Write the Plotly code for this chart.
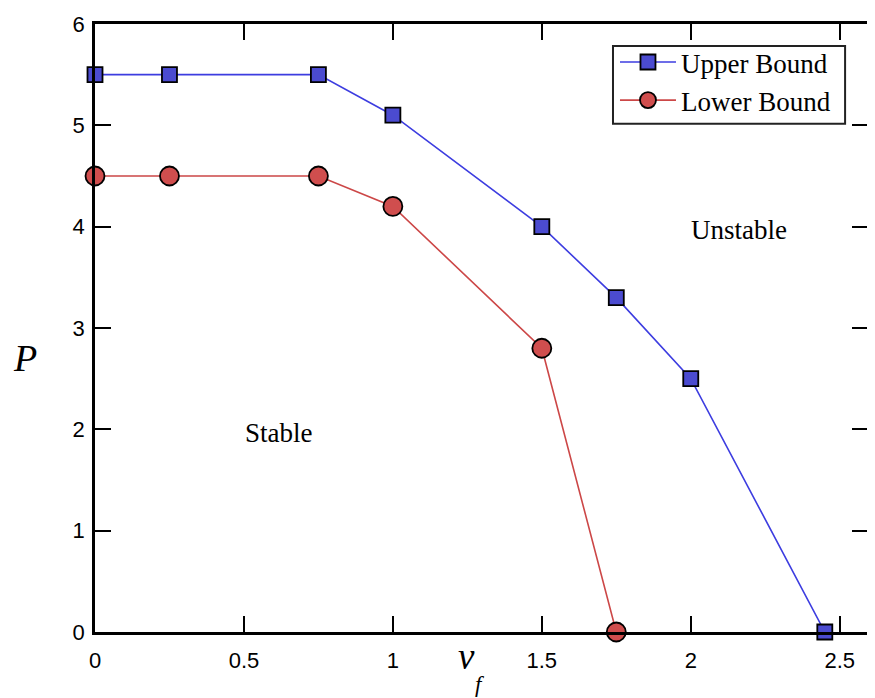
import plotly.graph_objects as go

upper_x = [0, 0.25, 0.75, 1.0, 1.5, 1.75, 2.0, 2.45]
upper_y = [5.5, 5.5, 5.5, 5.1, 4.0, 3.3, 2.5, 0.0]
lower_x = [0, 0.25, 0.75, 1.0, 1.5, 1.75]
lower_y = [4.5, 4.5, 4.5, 4.2, 2.8, 0.0]

x_ticks = [0, 0.5, 1, 1.5, 2, 2.5]
x_ticktext = ["0", "0.5", "1", "1.5", "2", "2.5"]
y_ticks = [0, 1, 2, 3, 4, 5, 6]

# page body has an 8px default margin; size the figure so it fits the window
OFF = 8
W, H = 875 - OFF, 698 - OFF
L, T = 95 - OFF, 22 - OFF
R = W - (871 - OFF)
B = H - (632 - OFF)
pw, ph = W - L - R, H - T - B

def px(x):
    return (x - OFF - L) / pw

def py(y):
    return (H - B - (y - OFF)) / ph

fig = go.Figure()
fig.add_trace(go.Scatter(
    x=upper_x, y=upper_y, mode="lines+markers", name="Upper Bound",
    line=dict(color="#3d3de0", width=1.6),
    marker=dict(symbol="square", size=15, color="#4b4bd0",
                line=dict(color="black", width=1.8)),
    cliponaxis=False))
fig.add_trace(go.Scatter(
    x=lower_x, y=lower_y, mode="lines+markers", name="Lower Bound",
    line=dict(color="#cc4747", width=1.6),
    marker=dict(symbol="circle", size=19, color="#d04e4e",
                line=dict(color="black", width=1.8)),
    cliponaxis=False))

serif = "Liberation Serif, Times New Roman, serif"
sans = "Liberation Sans, Arial, sans-serif"

def ann(text, x, y, size):
    return dict(text=text, x=px(x), y=py(y), xref="paper", yref="paper",
                xanchor="center", yanchor="middle", showarrow=False,
                font=dict(family=serif, size=size, color="black"))

fig.update_layout(
    width=W, height=H,
    margin=dict(l=L, r=R, t=T, b=B, pad=0),
    plot_bgcolor="white", paper_bgcolor="white",
    showlegend=True,
    legend=dict(x=px(617), y=py(36), xanchor="left", yanchor="top",
                bgcolor="rgba(0,0,0,0)", borderwidth=0,
                font=dict(family=serif, size=27, color="black"),
                itemwidth=56, tracegroupgap=0),
    shapes=[dict(type="rect", xref="paper", yref="paper",
                 x0=px(615), x1=px(848), y0=py(44), y1=py(122),
                 line=dict(color="#222", width=2), fillcolor="white",
                 layer="above")],
    xaxis=dict(range=[0, 2.595], tickvals=x_ticks, ticktext=x_ticktext,
               ticks="inside", ticklen=16, tickwidth=2, tickcolor="black",
               showline=True, linecolor="black", linewidth=2.5, mirror="allticks",
               showgrid=False, zeroline=False, ticklabelstandoff=7,
               tickfont=dict(family=sans, size=22, color="black")),
    yaxis=dict(range=[0, 6], tickvals=y_ticks,
               ticks="inside", ticklen=16, tickwidth=2, tickcolor="black",
               showline=True, linecolor="black", linewidth=2.5, mirror="allticks",
               showgrid=False, zeroline=False, ticklabelstandoff=3,
               tickfont=dict(family=sans, size=22, color="black")),
    annotations=[
        ann("Unstable", 742, 229, 27),
        ann("Stable", 280, 432, 27),
        ann("<i>P</i>", 25, 357, 38),
        ann("<i>v</i>", 468, 657, 37),
        ann("<i>f</i>", 481, 685, 23),
    ],
)

fig.write_html("out.html")
